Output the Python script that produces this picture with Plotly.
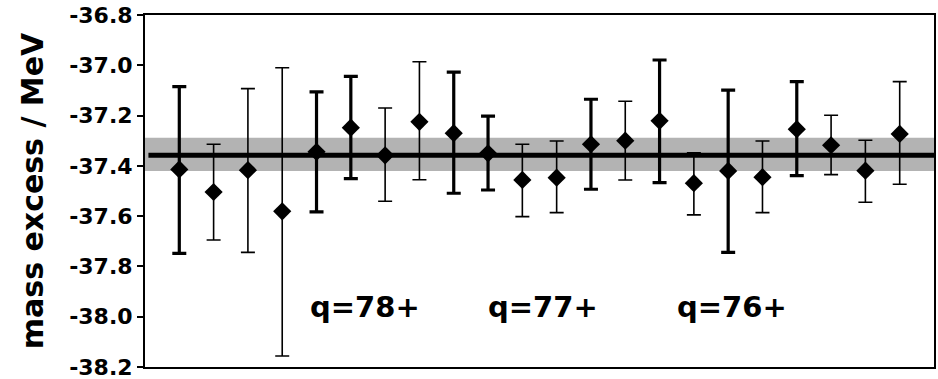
import plotly.graph_objects as go

# measurement index
idx = list(range(1, 23))
# mass excess values (MeV)
mass = [-37.414, -37.504, -37.417, -37.581, -37.344, -37.248, -37.358, -37.225,
        -37.270, -37.350, -37.456, -37.447, -37.314, -37.300, -37.221, -37.469,
        -37.420, -37.445, -37.254, -37.318, -37.419, -37.273]
# upper / lower ends of the error bars (MeV)
upper = [-37.085, -37.314, -37.093, -37.010, -37.106, -37.044, -37.170, -36.986,
         -37.027, -37.202, -37.314, -37.301, -37.135, -37.143, -36.979, -37.348,
         -37.099, -37.301, -37.065, -37.199, -37.298, -37.065]
lower = [-37.748, -37.695, -37.744, -38.156, -37.583, -37.451, -37.541, -37.455,
         -37.509, -37.496, -37.602, -37.586, -37.493, -37.456, -37.467, -37.595,
         -37.744, -37.586, -37.439, -37.435, -37.545, -37.473]
# measurement group (A / B)
group = ["A", "B", "B", "B", "A", "A", "B", "B", "A", "A", "B",
         "B", "A", "B", "A", "B", "A", "B", "A", "B", "B", "B"]

# mean value and its uncertainty band
mean_value = -37.358
band_low, band_high = -37.420, -37.288

# charge-state labels
q_labels = ["q=78+", "q=77+", "q=76+"]
q_x = [6.4, 11.6, 17.1]
q_y = [-37.96, -37.96, -37.96]

y_ticks = [-36.8, -37.0, -37.2, -37.4, -37.6, -37.8, -38.0, -38.2]

font_family = "DejaVu Sans"

fig = go.Figure()

# uncertainty band and mean line
fig.add_shape(type="rect", xref="x", yref="y", x0=0, x1=23, y0=band_low, y1=band_high,
              fillcolor="#b3b3b3", line=dict(width=0), layer="below")
fig.add_shape(type="line", xref="x", yref="y", x0=0.1, x1=23, y0=mean_value, y1=mean_value,
              line=dict(color="black", width=5), layer="below")

style = {"A": 3.2, "B": 1.6}
for g in ["A", "B"]:
    sel = [i for i, gg in enumerate(group) if gg == g]
    xs = [idx[i] for i in sel]
    ys = [mass[i] for i in sel]
    ep = [upper[i] - mass[i] for i in sel]
    em = [mass[i] - lower[i] for i in sel]
    fig.add_trace(go.Scatter(
        x=xs, y=ys, mode="markers",
        marker=dict(symbol="diamond", size=14, color="black"),
        error_y=dict(type="data", symmetric=False, array=ep, arrayminus=em,
                     color="black", thickness=style[g], width=7),
        showlegend=False,
    ))

for t, x, y in zip(q_labels, q_x, q_y):
    fig.add_annotation(x=x, y=y, xref="x", yref="y", text=t, showarrow=False,
                       font=dict(family=font_family, size=29, color="black", weight="bold"),
                       xanchor="center", yanchor="middle")

fig.update_layout(
    width=938, height=379,
    margin=dict(l=145, r=4, t=15, b=12),
    paper_bgcolor="white", plot_bgcolor="white",
    font=dict(family=font_family, color="black"),
)
fig.update_xaxes(range=[0, 23], showticklabels=False, ticks="", showgrid=False,
                 automargin=False,
                 zeroline=False, showline=True, linecolor="black", linewidth=2, mirror=True)
fig.update_yaxes(range=[-38.2, -36.8], tickvals=y_ticks,
                 ticktext=[f"{v:.1f}" for v in y_ticks],
                 ticks="outside", ticklen=6, tickwidth=1.5, tickcolor="black",
                 ticklabeloverflow="allow", automargin=False,
                 tickfont=dict(family=font_family, size=22, color="black", weight="bold"),
                 showgrid=False, zeroline=False, showline=True, linecolor="black",
                 linewidth=2, mirror=True,
                 title=dict(text="mass excess / MeV", standoff=17,
                            font=dict(family=font_family, size=30, color="black", weight="bold")))

fig.write_html("out.html")
